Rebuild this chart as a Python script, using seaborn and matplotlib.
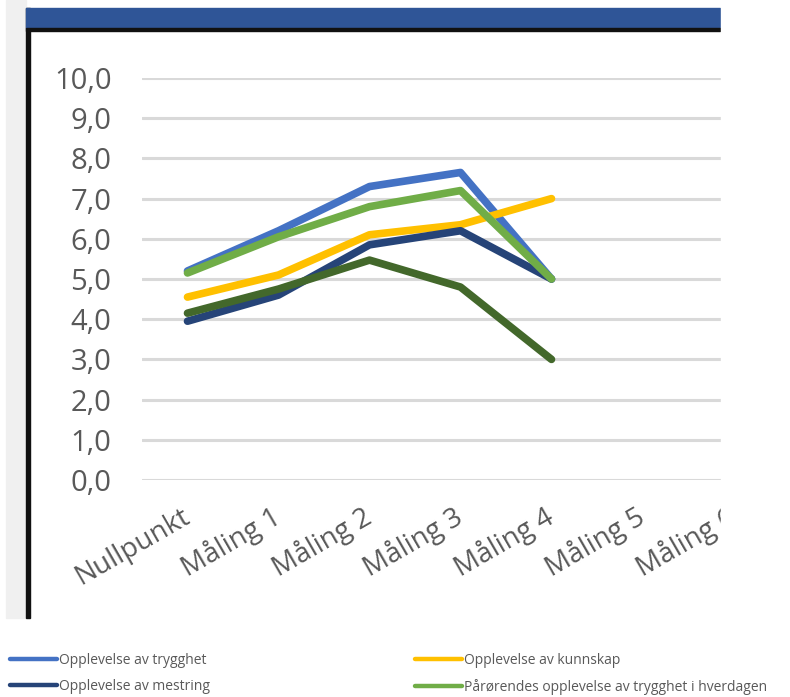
import matplotlib
matplotlib.use("Agg")
import matplotlib.pyplot as plt
from matplotlib.patches import Rectangle
from matplotlib.lines import Line2D
from matplotlib.transforms import ScaledTranslation
import seaborn as sns
import pandas as pd

categories = ["Nullpunkt", "Måling 1", "Måling 2", "Måling 3", "Måling 4", "Måling 5", "Måling 6"]
series_names = [
    "Opplevelse av trygghet",
    "Opplevelse av kunnskap",
    "Opplevelse av mestring",
    "Pårørendes opplevelse av trygghet i hverdagen",
    "Serie 5",
]
trygghet = [5.2, 6.2, 7.3, 7.65, 5.0]
kunnskap = [4.55, 5.1, 6.1, 6.35, 7.0]
mestring = [3.95, 4.6, 5.85, 6.2, 5.0]
parorende = [5.15, 6.05, 6.8, 7.2, 5.0]
serie5 = [4.15, 4.75, 5.47, 4.8, 3.0]
yticks = [0, 1, 2, 3, 4, 5, 6, 7, 8, 9, 10]
colors = ["#4472C4", "#FFC000", "#264478", "#70AD47", "#43682B"]

all_vals = [trygghet, kunnskap, mestring, parorende, serie5]
rows = []
for name, vals in zip(series_names, all_vals):
    for i, v in enumerate(vals):
        rows.append({"pos": i, "value": v, "serie": name})
df = pd.DataFrame(rows)

sns.set_style("white")
plt.rcParams["font.family"] = ["Open Sans", "DejaVu Sans"]

W, H = 790, 697
fig = plt.figure(figsize=(W / 100, H / 100), dpi=100)

def fx(px):
    return px / W

def fy(py):
    return 1 - py / H

# background frame elements
fig.patches.append(Rectangle((fx(6), fy(618)), fx(26) - fx(6), fy(0) - fy(618),
                             transform=fig.transFigure, color="#f0f0f0", zorder=0))
fig.patches.append(Rectangle((fx(26), fy(618)), fx(4), fy(8) - fy(618),
                             transform=fig.transFigure, color="#111111", zorder=5))
fig.patches.append(Rectangle((fx(26), fy(28)), fx(720) - fx(26), fy(8) - fy(28),
                             transform=fig.transFigure, color="#2F5597", zorder=5))
fig.patches.append(Rectangle((fx(26), fy(31)), fx(720) - fx(26), fy(28) - fy(31),
                             transform=fig.transFigure, color="#111111", zorder=5))

left_px, right_px = 142, 779
top_px, bot_px = 78, 480
ax = fig.add_axes([fx(left_px), fy(bot_px), fx(right_px) - fx(left_px), fy(top_px) - fy(bot_px)])

sns.lineplot(data=df, x="pos", y="value", hue="serie", palette=dict(zip(series_names, colors)),
             hue_order=series_names, sort=False, ax=ax, linewidth=5.5, legend=False)
for ln in ax.get_lines():
    ln.set_solid_capstyle("round")
    ln.set_solid_joinstyle("round")
    ln.set_clip_on(False)

ax.set_xlim(-0.5, len(categories) - 0.5)
ax.set_ylim(0, 10)
ax.set_yticks(yticks)
ax.set_yticklabels([f"{v:.1f}".replace(".", ",") for v in yticks], fontsize=21, color="#595959")
ax.set_xticks(range(len(categories)))
ax.set_xticklabels(categories, fontsize=20, color="#595959", rotation=30,
                   ha="right", va="center", rotation_mode="anchor")
offset = ScaledTranslation(8 / 100, 0, fig.dpi_scale_trans)
for lab in ax.get_xticklabels():
    lab.set_transform(lab.get_transform() + offset)
ax.tick_params(axis="y", length=0, pad=22)
ax.tick_params(axis="x", length=0, pad=25)
ax.set_xlabel("")
ax.set_ylabel("")
for s in ax.spines.values():
    s.set_visible(False)
ax.yaxis.grid(True, color="#d9d9d9", linewidth=2.2)
ax.xaxis.grid(False)
ax.set_axisbelow(True)

# crop right side like the reference
fig.patches.append(Rectangle((fx(721), fy(625)), fx(790) - fx(721), 1 - fy(625) + 0.01,
                             transform=fig.transFigure, color="white", zorder=50))

# legends (two columns)
def handles_for(idx):
    return [Line2D([], [], color=colors[i], linewidth=3.2, solid_capstyle="round") for i in idx]

kw = dict(frameon=False, fontsize=10, labelcolor="#595959", handlelength=3.4,
          handletextpad=0.12, borderpad=0, borderaxespad=0, labelspacing=0.8, loc="upper left")
leg1 = fig.legend(handles_for([0, 2]), [series_names[0], series_names[2]],
                  bbox_to_anchor=(fx(10), fy(653)), **kw)
leg2 = fig.legend(handles_for([1, 3]), [series_names[1], series_names[3]],
                  bbox_to_anchor=(fx(415), fy(653)), **kw)

fig.savefig("out.png", dpi=100)
